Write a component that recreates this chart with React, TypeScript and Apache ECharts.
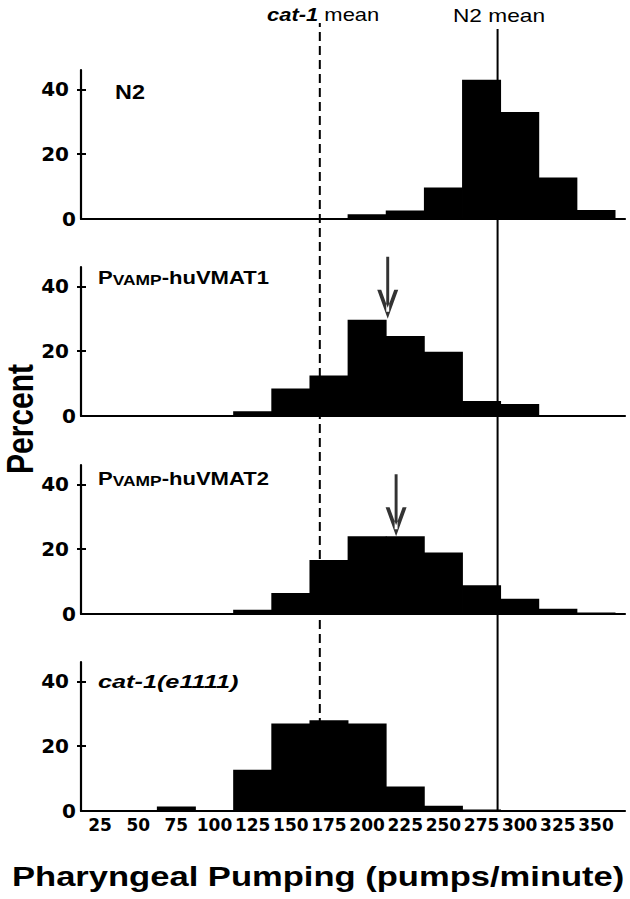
import React, { useEffect, useRef } from 'react';
import * as echarts from 'echarts';

// ---------- data ----------
const binCenters = [25, 50, 75, 100, 125, 150, 175, 200, 225, 250, 275, 300, 325, 350];
const xTickLabels = [25, 50, 75, 100, 125, 150, 175, 200, 225, 250, 275, 300, 325, 350];
const yTickLabels = [0, 20, 40];
const yTickMarks = [20, 40];

const n2Percent = [0, 0, 0, 0, 0, 0, 0, 1.5, 2.6, 9.7, 43, 33, 12.8, 2.8];
const vmat1Percent = [0, 0, 0, 0, 1.5, 8.5, 12.5, 29.7, 24.7, 19.8, 4.6, 3.7, 0, 0];
const vmat2Percent = [0, 0, 0, 0, 1.3, 6.5, 16.7, 24, 24, 19, 8.9, 4.7, 1.6, 0.5];
const cat1Percent = [0, 0, 1.4, 0, 12.7, 27, 28, 27, 7.6, 1.6, 0.5, 0, 0, 0];

const n2Mean = 285.5;
const cat1Mean = 169;
const vmat1Mean = 213.5;
const vmat1ArrowTip = 30;
const vmat2Mean = 219;
const vmat2ArrowTip = 24;

// ---------- layout ----------
const X_MIN = 12.5;
const X_MAX = 369;
const Y_MAX = 46;
const GRID_LEFT = 81;
const GRID_RIGHT = 5;
const PANEL_TOPS = [70, 267, 465, 662];
const PANEL_HEIGHT = 149;
const OVERLAY_BOTTOM = 88;
const TEXT_FONT = 'Liberation Sans, Arial, Helvetica, sans-serif';
const AXIS_FONT = 'DejaVu Sans, sans-serif';

const ARROW_PATH =
  'path://M8.6,0 L11.4,0 L11.4,55 L8.6,55 Z M0,33 L10,62 L20,33 L16.2,33 L10,51 L3.8,33 Z';

export default function App() {
  const ref = useRef<HTMLDivElement>(null);

  useEffect(() => {
    if (!ref.current) return;
    const chart = echarts.init(ref.current, undefined, { renderer: 'svg' });
    const panels = [n2Percent, vmat1Percent, vmat2Percent, cat1Percent];

    const grid: any[] = PANEL_TOPS.map((top) => ({
      left: GRID_LEFT,
      right: GRID_RIGHT,
      top,
      height: PANEL_HEIGHT,
    }));
    grid.push({ left: GRID_LEFT, right: GRID_RIGHT, top: 23, bottom: OVERLAY_BOTTOM });
    grid.push({ left: GRID_LEFT, right: GRID_RIGHT, top: 29, bottom: OVERLAY_BOTTOM });

    const xAxis: any[] = PANEL_TOPS.map((_, i) => ({
      type: 'value',
      gridIndex: i,
      min: X_MIN,
      max: X_MAX,
      axisLine: { show: true, lineStyle: { color: '#000', width: 2.2 } },
      axisTick: { show: false },
      splitLine: { show: false },
      axisLabel:
        i === 3
          ? {
              show: true,
              customValues: xTickLabels,
              fontFamily: AXIS_FONT,
              fontWeight: 'bold',
              fontSize: 17,
              color: '#000',
              margin: 5,
            }
          : { show: false },
    }));
    xAxis.push({ type: 'value', gridIndex: 4, min: X_MIN, max: X_MAX, show: false });
    xAxis.push({ type: 'value', gridIndex: 5, min: X_MIN, max: X_MAX, show: false });

    const yAxis: any[] = [];
    PANEL_TOPS.forEach((_, i) => {
      yAxis.push({
        type: 'value',
        gridIndex: i,
        position: 'left',
        min: 0,
        max: Y_MAX,
        axisLine: { show: true, lineStyle: { color: '#000', width: 2.2 } },
        axisTick: {
          show: true,
          inside: false,
          length: 4,
          customValues: yTickMarks,
          lineStyle: { color: '#000', width: 2 },
        },
        splitLine: { show: false },
        axisLabel: {
          show: true,
          customValues: yTickLabels,
          margin: 5,
          formatter: (v: number) => (v === 0 ? '{z|0}' : `{n|${v}}`),
          rich: {
            z: { fontFamily: AXIS_FONT, fontWeight: 'bold', fontSize: 20, color: '#000' },
            n: {
              fontFamily: AXIS_FONT,
              fontWeight: 'bold',
              fontSize: 20,
              color: '#000',
              padding: [0, 7, 0, 0],
            },
          },
        },
      });
      yAxis.push({
        type: 'value',
        gridIndex: i,
        position: 'left',
        min: 0,
        max: Y_MAX,
        axisLine: { show: false },
        axisTick: {
          show: true,
          inside: true,
          length: 5,
          customValues: yTickMarks,
          lineStyle: { color: '#000', width: 2 },
        },
        splitLine: { show: false },
        axisLabel: { show: false },
      });
    });
    yAxis.push({ type: 'value', gridIndex: 4, min: 0, max: 1, show: false });
    yAxis.push({ type: 'value', gridIndex: 5, min: 0, max: 1, show: false });

    const series: any[] = panels.map((vals, i) => ({
      type: 'bar',
      xAxisIndex: i,
      yAxisIndex: 2 * i,
      data: binCenters.map((c, k) => [c, vals[k]]),
      barWidth: 39,
      itemStyle: { color: '#000' },
      silent: true,
    }));

    const arrow = (xi: number, yi: number, x: number, y: number) => ({
      type: 'scatter',
      xAxisIndex: xi,
      yAxisIndex: yi,
      data: [[x, y]],
      symbol: ARROW_PATH,
      symbolSize: [21, 62],
      symbolOffset: [0, '-50%'],
      itemStyle: { color: '#000' },
      clip: false,
      z: 5,
      silent: true,
    });
    series.push(arrow(1, 2, vmat1Mean, vmat1ArrowTip));
    series.push(arrow(2, 4, vmat2Mean, vmat2ArrowTip));

    series.push({
      type: 'line',
      xAxisIndex: 4,
      yAxisIndex: 8,
      data: [
        [cat1Mean, 0],
        [cat1Mean, 1],
      ],
      symbol: 'none',
      lineStyle: { color: '#000', width: 2, type: [9, 5] },
      z: 6,
      silent: true,
    });
    series.push({
      type: 'line',
      xAxisIndex: 5,
      yAxisIndex: 9,
      data: [
        [n2Mean, 0],
        [n2Mean, 1],
      ],
      symbol: 'none',
      lineStyle: { color: '#000', width: 2 },
      z: 6,
      silent: true,
    });

    const graphic: any[] = [
      {
        type: 'text',
        x: 267,
        y: 15,
        scaleX: 1.22,
        style: {
          text: '{i|cat-1} {r|mean}',
          fontSize: 18,
          fontFamily: TEXT_FONT,
          fill: '#000',
          verticalAlign: 'middle',
          rich: {
            i: { fontSize: 18, fontFamily: TEXT_FONT, fontStyle: 'italic', fontWeight: 'bold' },
            r: { fontSize: 18, fontFamily: TEXT_FONT },
          },
        },
      },
      {
        type: 'text',
        x: 453,
        y: 15,
        scaleX: 1.26,
        style: {
          text: 'N2 mean',
          fontSize: 18,
          fontFamily: TEXT_FONT,
          fill: '#000',
          verticalAlign: 'middle',
        },
      },
      {
        type: 'text',
        x: 115,
        y: 92,
        scaleX: 1.17,
        style: {
          text: 'N2',
          fontSize: 20,
          fontWeight: 'bold',
          fontFamily: TEXT_FONT,
          fill: '#000',
          verticalAlign: 'middle',
        },
      },
      ...[
        { y: 268, suffix: '-huVMAT1' },
        { y: 469, suffix: '-huVMAT2' },
      ].map((p) => ({
        type: 'text',
        x: 98,
        y: p.y,
        scaleX: 1.16,
        style: {
          text: `{a|P}{b|VAMP}{a|${p.suffix}}`,
          fontSize: 19,
          fontFamily: TEXT_FONT,
          fill: '#000',
          verticalAlign: 'top',
          rich: {
            a: {
              fontSize: 19,
              lineHeight: 19,
              fontFamily: TEXT_FONT,
              fontWeight: 'bold',
              verticalAlign: 'top',
            },
            b: {
              fontSize: 15,
              lineHeight: 15,
              fontFamily: TEXT_FONT,
              fontWeight: 'bold',
              padding: [10, 0, 0, 0],
              verticalAlign: 'bottom',
            },
          },
        },
      })),
      {
        type: 'text',
        x: 98,
        y: 682,
        scaleX: 1.33,
        style: {
          text: 'cat-1(e1111)',
          fontSize: 19,
          fontWeight: 'bold',
          fontStyle: 'italic',
          fontFamily: TEXT_FONT,
          fill: '#000',
          verticalAlign: 'middle',
        },
      },
      {
        type: 'text',
        x: 21,
        y: 419,
        rotation: Math.PI / 2,
        scaleY: 1.2,
        style: {
          text: 'Percent',
          fontSize: 30,
          fontWeight: 'bold',
          fontFamily: TEXT_FONT,
          fill: '#000',
          align: 'center',
          verticalAlign: 'middle',
        },
      },
      {
        type: 'text',
        x: 12,
        y: 876.5,
        scaleX: 1.28,
        style: {
          text: 'Pharyngeal Pumping (pumps/minute)',
          fontSize: 27,
          fontWeight: 'bold',
          fontFamily: TEXT_FONT,
          fill: '#000',
          verticalAlign: 'middle',
        },
      },
    ];

    chart.setOption({
      animation: false,
      backgroundColor: '#fff',
      grid,
      xAxis,
      yAxis,
      series,
      graphic,
    });

    return () => chart.dispose();
  }, []);

  return (
    <div
      ref={ref}
      style={{ position: 'absolute', left: 0, top: 0, width: 630, height: 899, background: '#fff' }}
    />
  );
}
